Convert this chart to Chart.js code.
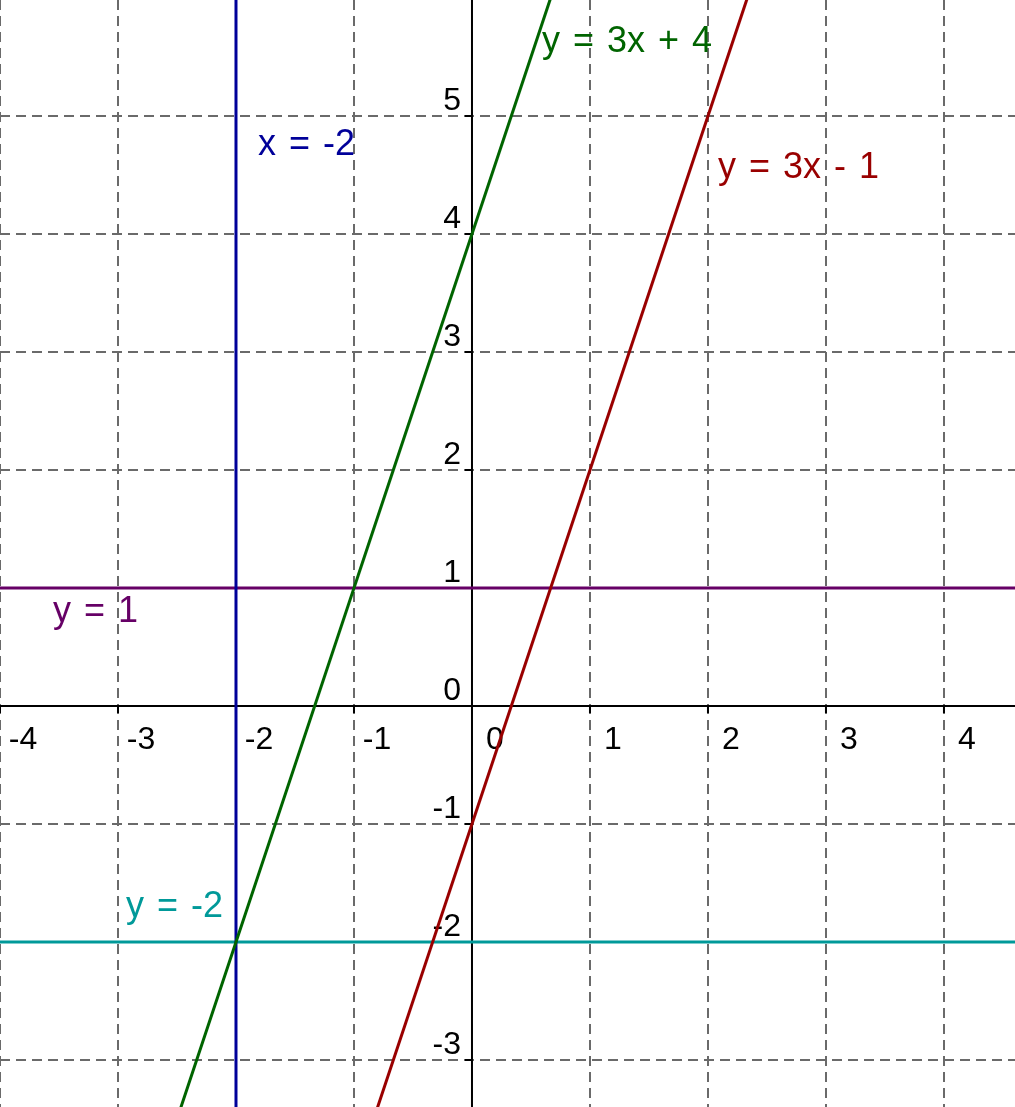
<!DOCTYPE html>
<html>
<head>
<meta charset="utf-8">
<script src="https://cdn.jsdelivr.net/npm/chart.js@4.4.1/dist/chart.umd.min.js"></script>
<style>
  html, body { margin: 0; padding: 0; background: #fff; }
  #wrap { width: 1015px; height: 1107px; }
</style>
</head>
<body>
<div id="wrap"><canvas id="graph"></canvas></div>
<script>
// visible window of the plane
const xRange = [-4, 4.602];
const yRange = [-3.398, 5.983];

const xTicks = [-4, -3, -2, -1, 0, 1, 2, 3, 4];
const yTicks = [-3, -2, -1, 0, 1, 2, 3, 4, 5];

// the five lines: y = m*x + b, or a vertical line x = c
const lineNames = ['y = 3x + 4', 'y = 3x - 1', 'x = -2', 'y = 1', 'y = -2'];
const slopes = [3, 3, null, 0, 0];
const intercepts = [4, -1, null, 1, -2];
const verticalAt = [null, null, -2, null, null];

const lineColors = ['#006400', '#990000', '#000099', '#660066', '#009999'];

// where each name is written (left edge / baseline, in graph units)
const labelSpots = {
  'y = 3x + 4': [0.593, 5.542],
  'y = 3x - 1': [2.085, 4.475],
  'x = -2': [-1.814, 4.669],
  'y = 1': [-3.551, 0.712],
  'y = -2': [-2.932, -1.788]
};

function linePoints(i) {
  if (verticalAt[i] !== null) {
    return [{ x: verticalAt[i], y: yRange[0] }, { x: verticalAt[i], y: yRange[1] }];
  }
  return xRange.map(x => ({ x: x, y: slopes[i] * x + intercepts[i] }));
}

const datasets = lineNames.map((name, i) => ({
  label: name,
  data: linePoints(i),
  showLine: true,
  borderColor: lineColors[i],
  borderWidth: 3,
  pointRadius: 0,
  fill: false
}));

const tickFont = '32px "Liberation Sans", Arial, sans-serif';
const nameFont = '36px "Liberation Sans", Arial, sans-serif';

const axesPlugin = {
  id: 'axes',
  beforeDatasetsDraw(chart) {
    const { ctx, scales: { x, y } } = chart;
    const x0 = x.getPixelForValue(0);
    const y0 = y.getPixelForValue(0);
    ctx.save();
    ctx.strokeStyle = '#000';
    ctx.lineWidth = 2;
    ctx.beginPath();
    ctx.moveTo(x.left, y0); ctx.lineTo(x.right, y0);
    ctx.moveTo(x0, y.top); ctx.lineTo(x0, y.bottom);
    xTicks.forEach(v => {
      const p = x.getPixelForValue(v);
      ctx.moveTo(p, y0); ctx.lineTo(p, y0 + 7);
    });
    yTicks.forEach(v => {
      const p = y.getPixelForValue(v);
      ctx.moveTo(x0, p); ctx.lineTo(x0 - 7, p);
    });
    ctx.stroke();

    ctx.fillStyle = '#000';
    ctx.font = tickFont;
    ctx.textBaseline = 'alphabetic';
    ctx.textAlign = 'center';
    xTicks.forEach(v => ctx.fillText(String(v), x.getPixelForValue(v) + 23, y0 + 43));
    ctx.textAlign = 'right';
    yTicks.forEach(v => ctx.fillText(String(v), x0 - 11, y.getPixelForValue(v) - 6));
    ctx.restore();
  }
};

const namesPlugin = {
  id: 'names',
  afterDatasetsDraw(chart) {
    const { ctx, scales: { x, y } } = chart;
    ctx.save();
    ctx.font = nameFont;
    ctx.wordSpacing = '3px';
    ctx.textAlign = 'left';
    ctx.textBaseline = 'alphabetic';
    lineNames.forEach((name, i) => {
      const spot = labelSpots[name];
      ctx.fillStyle = lineColors[i];
      ctx.fillText(name, x.getPixelForValue(spot[0]), y.getPixelForValue(spot[1]));
    });
    ctx.restore();
  }
};

const gridStyle = {
  color: '#6a6a6a',
  lineWidth: 2,
  drawTicks: false
};

new Chart(document.getElementById('graph'), {
  type: 'scatter',
  data: { datasets: datasets },
  options: {
    responsive: true,
    maintainAspectRatio: false,
    animation: false,
    layout: { padding: 0 },
    plugins: {
      legend: { display: false },
      tooltip: { enabled: false }
    },
    scales: {
      x: {
        type: 'linear',
        min: xRange[0],
        max: xRange[1],
        ticks: { display: false },
        grid: gridStyle,
        border: { display: false, dash: [10, 6] },
        afterBuildTicks: s => { s.ticks = xTicks.map(v => ({ value: v })); },
        afterFit: s => { s.height = 0; }
      },
      y: {
        type: 'linear',
        min: yRange[0],
        max: yRange[1],
        ticks: { display: false },
        grid: gridStyle,
        border: { display: false, dash: [10, 6] },
        afterBuildTicks: s => { s.ticks = yTicks.map(v => ({ value: v })); },
        afterFit: s => { s.width = 0; }
      }
    }
  },
  plugins: [axesPlugin, namesPlugin]
});
</script>
</body>
</html>
